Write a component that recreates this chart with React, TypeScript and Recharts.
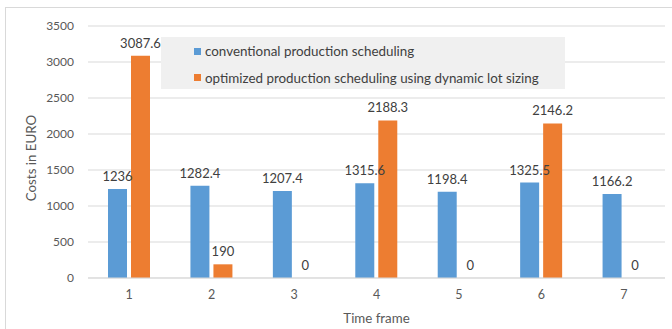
import React from "react";
import {
  BarChart,
  Bar,
  XAxis,
  YAxis,
  CartesianGrid,
  Legend,
  LabelList,
} from "recharts";

// Time frames on the category axis
const timeFrames = ["1", "2", "3", "4", "5", "6", "7"];

// Costs per time frame, in EURO
const conventionalCosts = [1236, 1282.4, 1207.4, 1315.6, 1198.4, 1325.5, 1166.2];
const optimizedCosts = [3087.6, 190, 0, 2188.3, 0, 2146.2, 0];

const yTicks = [0, 500, 1000, 1500, 2000, 2500, 3000, 3500];

const seriesNames = {
  conventional: "conventional production scheduling",
  optimized: "optimized production scheduling using dynamic lot sizing",
};

const BLUE = "#5B9BD5";
const ORANGE = "#ED7D31";
const GRID = "#d9d9d9";
const FONT = "Lato, 'Open Sans', sans-serif";

const rows = timeFrames.map((t, i) => ({
  frame: t,
  conventional: conventionalCosts[i],
  optimized: optimizedCosts[i],
}));

const LegendBox = () => (
  <div
    style={{
      background: "#f0f0f0",
      width: 404,
      height: 52,
      boxSizing: "border-box",
      paddingLeft: 33,
      paddingTop: 4,
      fontFamily: FONT,
      fontSize: 13.4,
      color: "#404040",
      textAlign: "left",
    }}
  >
    {[
      { color: BLUE, name: seriesNames.conventional },
      { color: ORANGE, name: seriesNames.optimized },
    ].map((item) => (
      <div
        key={item.name}
        style={{ display: "flex", alignItems: "center", height: 20, marginBottom: 6.5 }}
      >
        <span
          style={{
            display: "inline-block",
            width: 7,
            height: 7,
            background: item.color,
            marginRight: 4,
          }}
        />
        <span>{item.name}</span>
      </div>
    ))}
  </div>
);

// Value label above each bar; zero-height bars get one too
const ValueLabel = (props: any) => {
  const vb = props.viewBox || {};
  const x = Number(vb.x ?? props.x);
  const y = Number(vb.y ?? props.y);
  const w = Number(vb.width ?? props.width);
  const value = props.value;
  if (value === undefined || value === null || !isFinite(x) || !isFinite(y)) return null;
  return (
    <text
      x={x + w / 2}
      y={y - 8}
      textAnchor="middle"
      fontFamily={FONT}
      fontSize={13}
      fill="#404040"
    >
      {String(value)}
    </text>
  );
};

const YTitle = (props: any) => {
  const { viewBox } = props;
  const cx = 31;
  const cy = viewBox.y + viewBox.height / 2 + 6;
  return (
    <text
      x={cx}
      y={cy}
      transform={`rotate(-90, ${cx}, ${cy})`}
      textAnchor="middle"
      dominantBaseline="central"
      fontFamily={FONT}
      fontSize={13.3}
      fill="#595959"
    >
      Costs in EURO
    </text>
  );
};

export default function App() {
  return (
    <div
      style={{
        position: "absolute",
        left: 0,
        top: 0,
        width: 672,
        height: 329,
        background: "#fff",
        overflow: "hidden",
      }}
    >
      <div
        style={{
          position: "absolute",
          left: 5,
          top: 7,
          right: 0,
          bottom: 0,
          borderTop: `1px solid ${GRID}`,
          borderLeft: `1px solid ${GRID}`,
        }}
      />
      <BarChart
        width={672}
        height={329}
        data={rows}
        margin={{ top: 26, right: 7, bottom: 21, left: 0 }}
        barSize={19}
        barGap={4}
        style={{ position: "absolute", left: 0, top: 0, fontFamily: FONT }}
      >
        <CartesianGrid vertical={false} stroke={GRID} />
        <XAxis
          dataKey="frame"
          axisLine={{ stroke: GRID }}
          tickLine={false}
          tickMargin={6}
          tick={{ fontSize: 12.5, fill: "#595959", fontFamily: FONT }}
          label={{
            value: "Time frame",
            position: "insideBottom",
            offset: -15,
            fontSize: 13.3,
            fill: "#595959",
            fontFamily: FONT,
          }}
        />
        <YAxis
          width={88}
          domain={[0, 3500]}
          ticks={yTicks}
          axisLine={false}
          tickLine={false}
          tickMargin={8}
          tick={{ fontSize: 12, fill: "#595959", fontFamily: FONT }}
          label={<YTitle />}
        />
        <Legend
          layout="horizontal"
          align="center"
          verticalAlign="middle"
          content={<LegendBox />}
          wrapperStyle={{ left: 161, top: 37, width: 404, height: 52 }}
        />
        <Bar
          dataKey="conventional"
          name={seriesNames.conventional}
          fill={BLUE}
          isAnimationActive={false}
        >
          <LabelList dataKey="conventional" content={ValueLabel} />
        </Bar>
        <Bar
          dataKey="optimized"
          name={seriesNames.optimized}
          fill={ORANGE}
          minPointSize={0.01}
          isAnimationActive={false}
        >
          <LabelList dataKey="optimized" content={ValueLabel} />
        </Bar>
      </BarChart>
    </div>
  );
}
